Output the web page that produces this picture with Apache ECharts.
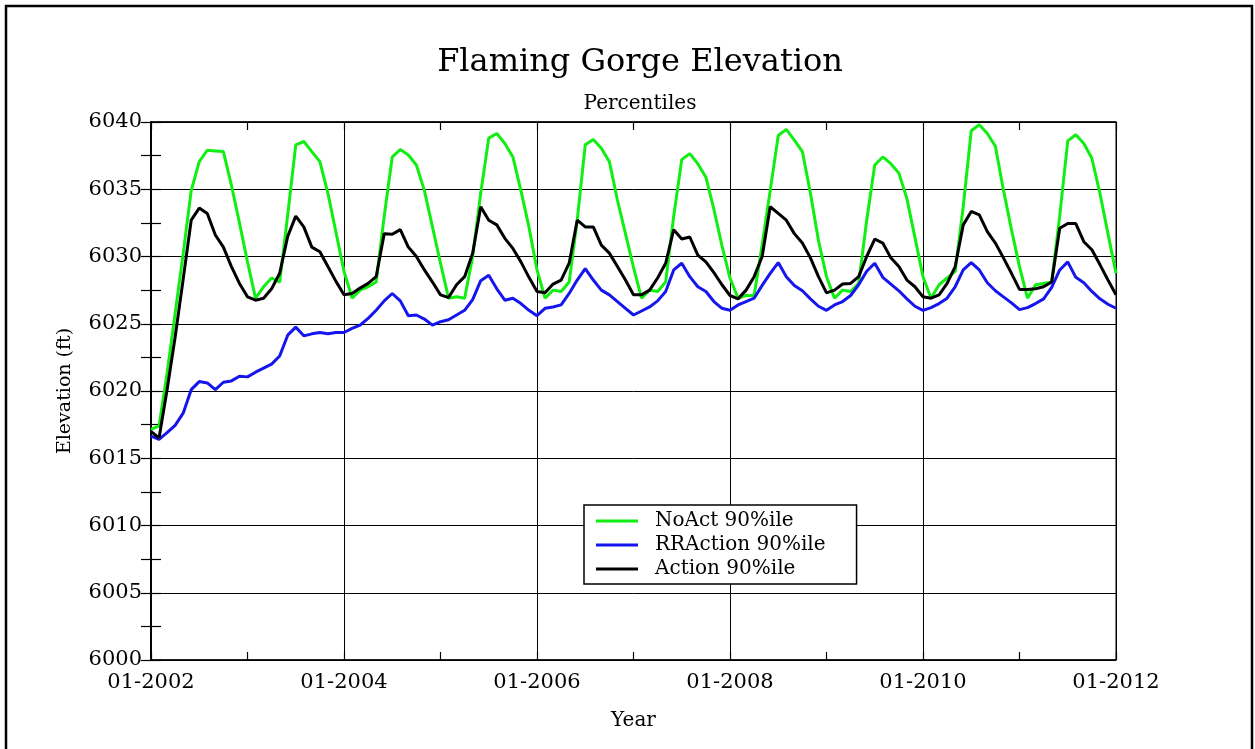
<!DOCTYPE html>
<html>
<head>
<meta charset="utf-8">
<title>Flaming Gorge Elevation</title>
<script src="https://cdn.jsdelivr.net/npm/echarts@6/dist/echarts.min.js"></script>
<style>
  html, body { margin: 0; padding: 0; background: #fff; }
  #chart { width: 1255px; height: 749px; }
</style>
</head>
<body>
<div id="chart"></div>
<script>
// monthly values, 01-2002 .. 01-2012 (121 points)
var tickLabels = ['01-2002', '01-2004', '01-2006', '01-2008', '01-2010', '01-2012'];

var noAct = [
  6017.15, 6017.4, 6021.3, 6025.75, 6030.2, 6034.9, 6037.05, 6037.9, 6037.85, 6037.8, 6035.3, 6032.5,
  6029.6, 6026.9, 6027.75, 6028.4, 6028.1, 6033.1, 6038.3, 6038.55, 6037.8, 6037.05, 6034.7, 6031.8,
  6028.9, 6026.9, 6027.5, 6027.75, 6028.1, 6033, 6037.4, 6037.95, 6037.55, 6036.8, 6034.9, 6032.2,
  6029.5, 6026.9, 6027.0, 6026.9, 6030, 6034.7, 6038.8, 6039.15, 6038.4, 6037.4, 6034.9, 6032.2,
  6029, 6026.9, 6027.5, 6027.4, 6028.1, 6032.7, 6038.3, 6038.7, 6038.05, 6037.05, 6034.2, 6031.7,
  6029.2, 6026.9, 6027.5, 6027.4, 6028.1, 6033, 6037.2, 6037.65, 6036.9, 6035.9, 6033.5, 6030.8,
  6028.4, 6026.9, 6027.1, 6027.1, 6030.85, 6034.9, 6039, 6039.45, 6038.65, 6037.8, 6034.7, 6031.2,
  6028.5, 6026.9, 6027.5, 6027.4, 6028, 6032.7, 6036.8, 6037.4, 6036.9, 6036.2, 6034.3, 6031.4,
  6028.5, 6026.9, 6027.9, 6028.4, 6028.9, 6033.7, 6039.35, 6039.8, 6039.15, 6038.2, 6034.95, 6032,
  6029.25, 6026.9, 6027.9, 6028, 6028.1, 6033, 6038.6, 6039.05, 6038.4, 6037.3, 6034.7, 6031.7,
  6028.75
];

var rrAction = [
  6016.65, 6016.4, 6016.9, 6017.45, 6018.35, 6020.1, 6020.7, 6020.6, 6020.1, 6020.65, 6020.75, 6021.1,
  6021.05, 6021.4, 6021.7, 6022, 6022.6, 6024.15, 6024.75, 6024.1, 6024.25, 6024.35, 6024.25, 6024.35,
  6024.35, 6024.65, 6024.9, 6025.4, 6026, 6026.7, 6027.25, 6026.7, 6025.6, 6025.65, 6025.35, 6024.9,
  6025.15, 6025.3, 6025.65, 6026, 6026.8, 6028.2, 6028.6, 6027.6, 6026.75, 6026.9, 6026.5, 6026,
  6025.6, 6026.15, 6026.25, 6026.4, 6027.25, 6028.25, 6029.1, 6028.25, 6027.5, 6027.15, 6026.65, 6026.15,
  6025.65, 6025.95, 6026.25, 6026.7, 6027.4, 6029, 6029.5, 6028.5, 6027.75, 6027.4, 6026.65, 6026.15,
  6026, 6026.4, 6026.65, 6026.9, 6027.85, 6028.75, 6029.55, 6028.5, 6027.85, 6027.45, 6026.85, 6026.3,
  6026, 6026.4, 6026.65, 6027.1, 6027.9, 6028.9, 6029.5, 6028.45, 6027.95, 6027.45, 6026.85, 6026.3,
  6026, 6026.2, 6026.5, 6026.9, 6027.75, 6029, 6029.55, 6029, 6028.05, 6027.45, 6027, 6026.55,
  6026.05, 6026.2, 6026.5, 6026.85, 6027.7, 6029, 6029.6, 6028.45, 6028.05, 6027.4, 6026.85, 6026.45,
  6026.15
];

var action = [
  6017.0, 6016.5, 6020.1, 6024, 6028.3, 6032.7, 6033.6, 6033.2, 6031.6, 6030.7, 6029.25, 6028,
  6027, 6026.75, 6026.9, 6027.6, 6028.75, 6031.5, 6033, 6032.2, 6030.7, 6030.35, 6029.25, 6028.15,
  6027.15, 6027.25, 6027.65, 6028, 6028.5, 6031.7, 6031.65, 6032, 6030.7, 6030, 6029, 6028.1,
  6027.15, 6026.95, 6027.9, 6028.5, 6030.25, 6033.7, 6032.7, 6032.35, 6031.35, 6030.6, 6029.6, 6028.45,
  6027.4, 6027.3, 6027.95, 6028.25, 6029.5, 6032.7, 6032.2, 6032.2, 6030.85, 6030.25, 6029.25, 6028.25,
  6027.15, 6027.15, 6027.5, 6028.4, 6029.5, 6032, 6031.3, 6031.45, 6030.1, 6029.6, 6028.8, 6027.9,
  6027.1, 6026.85, 6027.5, 6028.5, 6030, 6033.7, 6033.2, 6032.7, 6031.7, 6031, 6029.9, 6028.5,
  6027.3, 6027.5, 6027.95, 6028, 6028.5, 6030, 6031.3, 6031, 6029.9, 6029.25, 6028.25, 6027.75,
  6027, 6026.9, 6027.15, 6028, 6029.25, 6032.35, 6033.35, 6033.1, 6031.85, 6031, 6029.9, 6028.75,
  6027.55, 6027.55, 6027.6, 6027.75, 6028.1, 6032.1, 6032.45, 6032.45, 6031.1, 6030.5, 6029.4, 6028.25,
  6027.15
];

var font = 'DejaVu Serif';

function pairs(arr) {
  return arr.map(function (v, i) { return [i, v]; });
}

var myChart = echarts.init(document.getElementById('chart'));

var black = { color: '#000', width: 1.5 };

var option = {
  backgroundColor: '#fff',
  animation: false,
  title: [
    {
      text: 'Flaming Gorge Elevation',
      left: 635, top: 42, textAlign: 'center',
      textStyle: { fontFamily: font, fontSize: 32, fontWeight: 'normal', color: '#000' }
    },
    {
      text: 'Percentiles',
      left: 635, top: 89, textAlign: 'center',
      textStyle: { fontFamily: font, fontSize: 20, fontWeight: 'normal', color: '#000' }
    }
  ],
  legend: {
    orient: 'vertical',
    left: 584, top: 505,
    padding: [5, 31, 4, 12],
    itemGap: 2,
    itemWidth: 42,
    itemHeight: 3,
    icon: 'rect',
    backgroundColor: '#fff',
    borderColor: '#000',
    borderWidth: 1.5,
    borderRadius: 0,
    textStyle: { fontFamily: font, fontSize: 20, lineHeight: 22, color: '#000', padding: [0, 0, 0, 12] },
    data: ['NoAct 90%ile', 'RRAction 90%ile', 'Action 90%ile']
  },
  grid: { left: 151, top: 122, width: 965, height: 538, show: true, borderColor: '#000', borderWidth: 1 },
  xAxis: [
    {
      // bottom: year ticks, labels every two years
      type: 'value', min: 0, max: 120, interval: 12,
      name: 'Year', nameLocation: 'middle', nameGap: 51,
      nameTextStyle: { fontFamily: font, fontSize: 20, color: '#000' },
      axisLine: { lineStyle: black },
      axisTick: { inside: true, length: 8, lineStyle: { color: '#000', width: 1.2 } },
      splitLine: { show: false },
      axisLabel: {
        fontFamily: font, fontSize: 21, color: '#000', margin: 12,
        formatter: function (v) { return v % 24 === 0 ? tickLabels[v / 24] : ''; }
      }
    },
    {
      type: 'value', min: 0, max: 120, interval: 12, position: 'top',
      axisLine: { lineStyle: black },
      axisTick: { inside: true, length: 8, lineStyle: { color: '#000', width: 1.2 } },
      splitLine: { show: false },
      axisLabel: { show: false }
    },
    {
      // vertical grid lines every two years
      type: 'value', min: 0, max: 120, interval: 24, position: 'top',
      axisLine: { show: false }, axisTick: { show: false }, axisLabel: { show: false },
      splitLine: { show: true, lineStyle: { color: '#000', width: 1 } }
    }
  ],
  yAxis: [
    {
      type: 'value', min: 6000, max: 6040, interval: 2.5,
      name: 'Elevation (ft)', nameLocation: 'middle', nameGap: 76,
      nameTextStyle: { fontFamily: font, fontSize: 19, color: '#000' },
      axisLine: { show: true, lineStyle: black },
      axisTick: { show: true, inside: true, length: 10, lineStyle: { color: '#000', width: 1.2 } },
      splitLine: { show: false },
      axisLabel: {
        fontFamily: font, fontSize: 21, color: '#000', margin: 9,
        formatter: function (v) { return v % 5 === 0 ? String(v) : ''; }
      }
    },
    {
      type: 'value', min: 6000, max: 6040, interval: 2.5, position: 'right',
      axisLine: { show: true, lineStyle: black },
      axisTick: { show: true, inside: true, length: 10, lineStyle: { color: '#000', width: 1.2 } },
      splitLine: { show: false },
      axisLabel: { show: false }
    },
    {
      // horizontal grid lines every 5 ft
      type: 'value', min: 6000, max: 6040, interval: 5, position: 'right',
      axisLine: { show: false }, axisTick: { show: false }, axisLabel: { show: false },
      splitLine: { show: true, lineStyle: { color: '#000', width: 1 } }
    }
  ],
  series: [
    {
      name: 'NoAct 90%ile', type: 'line', data: pairs(noAct),
      symbol: 'none', color: '#11ee11', lineStyle: { width: 3, color: '#11ee11' }
    },
    {
      name: 'RRAction 90%ile', type: 'line', data: pairs(rrAction),
      symbol: 'none', color: '#1515ee', lineStyle: { width: 3, color: '#1515ee' }
    },
    {
      name: 'Action 90%ile', type: 'line', data: pairs(action),
      symbol: 'none', color: '#000', lineStyle: { width: 3, color: '#000' }
    }
  ],
  graphic: [
    {
      type: 'rect', silent: true, z: 100,
      shape: { x: 6, y: 6, width: 1246, height: 760 },
      style: { fill: 'none', stroke: '#000', lineWidth: 2.5 }
    }
  ]
};

myChart.setOption(option);
</script>
</body>
</html>
